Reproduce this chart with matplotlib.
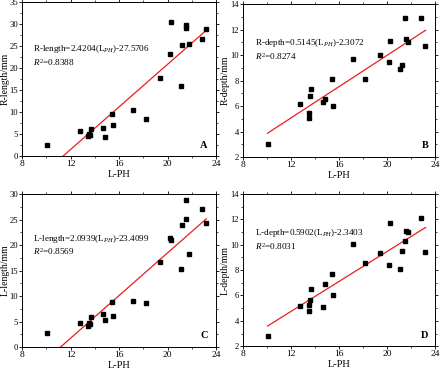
import matplotlib
matplotlib.use("Agg")
import matplotlib.pyplot as plt
import numpy as np
from matplotlib.ticker import MultipleLocator

plt.rcParams['font.family'] = ['Liberation Serif', 'DejaVu Serif']
plt.rcParams['mathtext.fontset'] = 'custom'
plt.rcParams['mathtext.rm'] = 'Liberation Serif'
plt.rcParams['mathtext.it'] = 'Liberation Serif:italic'

# shared x (L-PH)
l_ph = [10.05, 12.78, 13.48, 13.50, 13.57, 13.68, 14.68, 14.83, 15.42, 15.52, 17.15,
        18.20, 19.38, 20.20, 20.25, 21.10, 21.22, 21.50, 21.55, 21.75, 22.85, 23.18]

r_length = [2.6, 5.7, 4.5, 5.1, 4.8, 6.1, 6.4, 4.4, 9.5, 7.0, 10.5,
            8.5, 17.65, 23.1, 30.4, 15.9, 25.2, 29.7, 29.1, 25.5, 26.5, 28.9]
r_depth = [3.03, 6.13, 5.05, 5.44, 6.77, 7.3, 6.33, 6.56, 8.15, 6.0, 9.68,
           8.15, 10.0, 9.47, 11.1, 8.9, 9.19, 12.95, 11.3, 11.05, 12.93, 10.7]
l_length = [2.7, 4.8, 4.1, 4.8, 4.5, 5.9, 6.45, 5.3, 8.9, 6.06, 8.97,
            8.7, 16.6, 21.33, 20.93, 15.3, 23.87, 25.2, 28.9, 18.2, 27.07, 24.33]
l_depth = [2.82, 5.2, 4.77, 5.28, 5.64, 6.49, 5.13, 6.9, 7.67, 6.03, 10.05,
           8.55, 9.36, 8.4, 11.7, 8.05, 9.5, 10.26, 11.1, 11.03, 12.13, 9.43]

# drawn fit lines (slope, intercept)
fit_slopes = [2.4204, 0.6145, 2.0939, 0.5902]
fit_intercepts = [-27.5706, -2.3072, -23.4099, -2.3403]
fit_x_range = [10.05, 23.2]

ylabels = ['R-length/mm', 'R-depth/mm', 'L-length/mm', 'L-depth/mm']
eq_texts = [r'R-length=2.4204(L$_{PH}$)-27.5706',
            r'R-depth=0.5145(L$_{PH}$)-2.3072',
            r'L-length=2.0939(L$_{PH}$)-23.4099',
            r'L-depth=0.5902(L$_{PH}$)-2.3403']
r2_texts = [r'$R^2$=0.8388', r'$R^2$=0.8274', r'$R^2$=0.8569', r'$R^2$=0.8031']
letters = ['A', 'B', 'C', 'D']
ylims = [(0, 35), (2, 14), (0, 30), (2, 14)]
ymajor = [5, 2, 5, 2]
xticks = [8, 12, 16, 20, 24]

ys = [r_length, r_depth, l_length, l_depth]

positions = [
    [0.0500, 0.5795, 0.441, 0.415],
    [0.552, 0.5768, 0.437, 0.412],
    [0.0500, 0.0647, 0.441, 0.412],
    [0.552, 0.0666, 0.437, 0.411],
]
ylabel_x = [-0.066, -0.068, -0.066, -0.068]
eq_pos = [(0.056, 0.695, 0.61), (0.065, 0.743, 0.656),
          (0.056, 0.706, 0.623), (0.065, 0.744, 0.657)]
letter_pos = [(0.935, 0.067), (0.947, 0.074), (0.938, 0.073), (0.947, 0.07)]

fig = plt.figure(figsize=(4.4, 3.71), dpi=100)
fs = 6.2
for i in range(4):
    ax = fig.add_axes(positions[i])
    ax.plot(l_ph, ys[i], 's', color='black', markersize=3.4, zorder=3)
    xx = np.array(fit_x_range)
    ax.plot(xx, fit_slopes[i] * xx + fit_intercepts[i], color='#ee1c1c', lw=0.9, zorder=2)
    ax.set_xlim(8, 24)
    ax.set_ylim(*ylims[i])
    ax.set_xticks(xticks)
    ax.yaxis.set_major_locator(MultipleLocator(ymajor[i]))
    ax.xaxis.set_minor_locator(MultipleLocator(2))
    ax.yaxis.set_minor_locator(MultipleLocator(ymajor[i] / 2))
    ax.tick_params(axis='both', which='major', labelsize=fs, length=2.0, width=0.6,
                   direction='out', pad=0.8)
    ax.tick_params(axis='x', which='major', labelsize=6.8)
    ax.tick_params(axis='both', which='minor', length=1.2, width=0.5, direction='out')
    ax.tick_params(axis='x', which='both', top=True, labeltop=False)
    ax.tick_params(axis='y', which='both', right=True, labelright=False)
    for sp in ax.spines.values():
        sp.set_linewidth(0.7)
    ax.set_xlabel('L-PH', fontsize=7.5, labelpad=1.5)
    ax.set_ylabel(ylabels[i], fontsize=7)
    ax.yaxis.set_label_coords(ylabel_x[i], 0.5)
    ex, ey, ry = eq_pos[i]
    ax.text(ex, ey, eq_texts[i], transform=ax.transAxes, fontsize=6.6, va='center', ha='left')
    ax.text(ex, ry, r2_texts[i], transform=ax.transAxes, fontsize=6.6, va='center', ha='left')
    lx, ly = letter_pos[i]
    ax.text(lx, ly, letters[i], transform=ax.transAxes, fontsize=7.5, fontweight='bold',
            va='center', ha='center')

fig.savefig('out.png', dpi=100)
